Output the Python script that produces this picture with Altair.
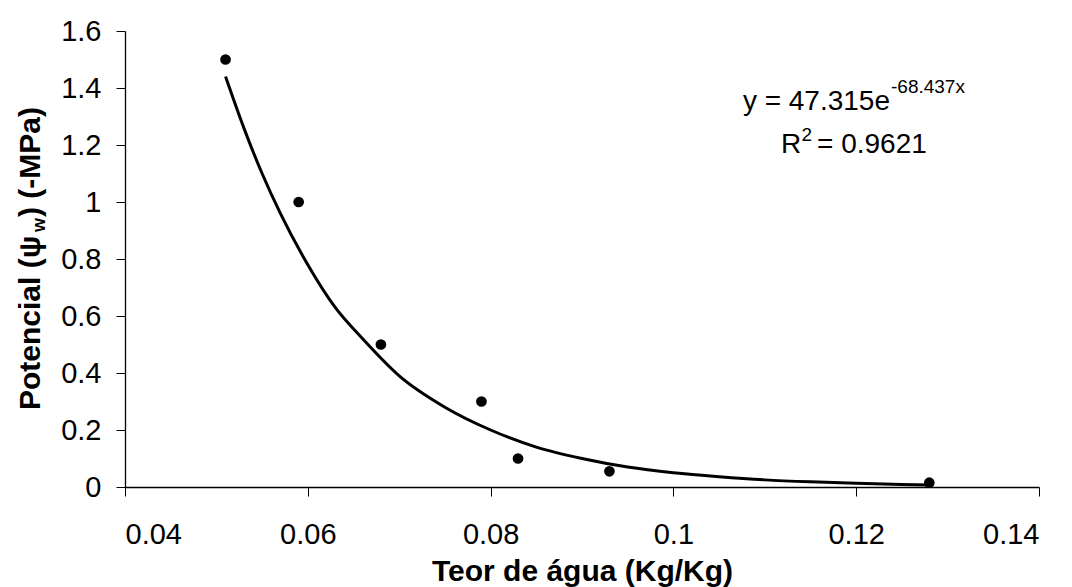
import altair as alt
import pandas as pd

# Measured points: water content (Kg/Kg) vs potential (-MPa)
theta = [0.051, 0.059, 0.068, 0.079, 0.083, 0.093, 0.128]
psi = [1.5, 1.0, 0.5, 0.3, 0.1, 0.055, 0.015]

# Trend curve values
trend_x = [0.051, 0.053, 0.055, 0.057, 0.060, 0.063, 0.066, 0.070, 0.075, 0.080,
           0.085, 0.090, 0.095, 0.100, 0.105, 0.110, 0.115, 0.120, 0.125, 0.128]
trend_y = [1.44, 1.26, 1.10, 0.96, 0.78, 0.63, 0.52, 0.39, 0.28, 0.20,
           0.14, 0.10, 0.07, 0.05, 0.036, 0.025, 0.018, 0.013, 0.009, 0.007]

x_ticks = [0.04, 0.06, 0.08, 0.10, 0.12, 0.14]
y_ticks = [0, 0.2, 0.4, 0.6, 0.8, 1.0, 1.2, 1.4, 1.6]

eq_main = "y = 47.315e"
eq_exp = "-68.437x"
r2_a = "R"
r2_b = "2"
r2_c = "= 0.9621"
ytitle_a = "Potencial (\u03c8"
ytitle_b = "w"
ytitle_c = ") (-MPa)"
xtitle = "Teor de água (Kg/Kg)"

FONT = "Liberation Sans"

pts = pd.DataFrame({"x": theta, "y": psi})
trend = pd.DataFrame({"x": trend_x, "y": trend_y})

xscale = alt.Scale(domain=[0.04, 0.14], nice=False, zero=False)
yscale = alt.Scale(domain=[0, 1.6], nice=False)

xaxis = alt.Axis(values=x_ticks, format="~g", title=xtitle, grid=False,
                 titleY=93, titleBaseline="alphabetic", titleFontSize=30,
                 titleFontWeight="bold", titleFont=FONT, titleColor="black",
                 labelPadding=24)
yaxis = alt.Axis(values=y_ticks, format="~g", title=None, grid=False,
                 labelPadding=15)

line = alt.Chart(trend).mark_line(color="black", strokeWidth=3, interpolate="monotone").encode(
    x=alt.X("x:Q", scale=xscale, axis=xaxis),
    y=alt.Y("y:Q", scale=yscale, axis=yaxis),
)

points = alt.Chart(pts).mark_circle(color="black", opacity=1, size=115).encode(
    x=alt.X("x:Q", scale=xscale),
    y=alt.Y("y:Q", scale=yscale),
)

def label(text, x, y, size, align="left", angle=0, weight="normal", baseline="alphabetic"):
    kw = dict(font=FONT, fontSize=size, align=align, baseline=baseline,
              color="black", fontWeight=weight)
    if angle:
        kw["angle"] = angle
    return alt.Chart(pd.DataFrame({"t": [text]})).mark_text(**kw).encode(
        text="t:N", x=alt.value(x), y=alt.value(y))

annos = [
    label(eq_main, 765, 79, 28, align="right"),
    label(eq_exp, 766, 62, 19, align="left"),
    label(r2_a, 656, 122, 28),
    label(r2_b, 676.5, 110, 19),
    label(r2_c, 692, 122, 28),
    label(ytitle_a, -85, 379, 30, angle=270, weight="bold"),
    label(ytitle_b, -80, 201, 18, angle=270, weight="bold"),
    label(ytitle_c, -85, 186, 30, angle=270, weight="bold"),
]

chart = alt.layer(line, points, *annos).properties(
    width=914, height=456,
    autosize=alt.AutoSizeParams(type="none"),
    padding={"left": 125, "top": 31, "right": 33, "bottom": 100},
).configure_view(stroke=None).configure_axis(
    domainColor="black", domainWidth=1.3, tickColor="black", tickWidth=1, tickSize=9,
    labelFont=FONT, labelFontSize=29, labelColor="black",
    titleFont=FONT,
)

chart.save("out.html", embed_options={"renderer": "svg", "actions": False})
